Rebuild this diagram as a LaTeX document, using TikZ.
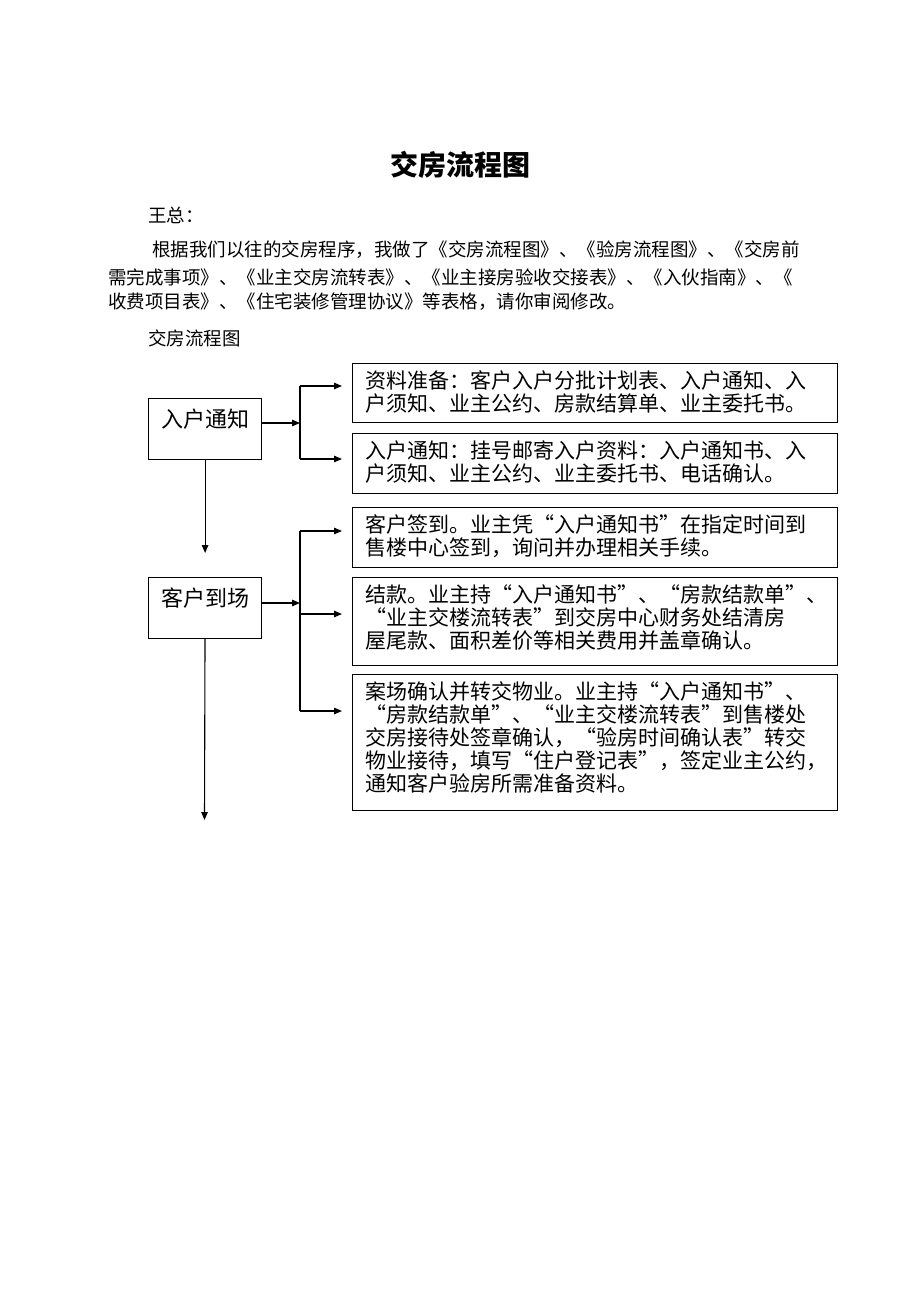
\documentclass[tikz,border=0pt]{standalone}
\usepackage{fontspec}
\setmainfont{Noto Sans CJK SC}
\usepackage{tikz}
\usetikzlibrary{arrows.meta}
\newcommand{\itemtext}[2]{\parbox[c][#1][t]{459pt}{#2}}
\tikzset{
  base/.style={draw=black, line width=1.1pt},
  arr/.style={base, -{Triangle[length=8pt,width=6.5pt]}},
  stage/.style={draw=black, line width=1.2pt, anchor=north west, minimum width=113pt, inner sep=4pt, text height=25pt, text depth=28pt, font=\fontsize{22}{24}\selectfont},
  item/.style={draw=black, line width=1.2pt, anchor=north west, inner xsep=13pt, inner ysep=7pt, font=\fontsize{21}{23}\selectfont},
  body/.style={anchor=west, inner sep=0pt, font=\fontsize{18.5}{20}\selectfont},
}
\begin{document}
\begin{tikzpicture}[x=1pt, y=-1pt]
  \fill[white] (0,0) rectangle (920,1302);
  \useasboundingbox (0,0) rectangle (920,1302);
  % heading and letter
  \node[inner sep=0pt, font=\fontsize{28}{30}\selectfont\bfseries] (title) at (460,165) {交房流程图};
  \node[body] (greet) at (148,215) {王总：};
  \node[body] (para1) at (152,250) {根据我们以往的交房程序，我做了《交房流程图》、《验房流程图》、《交房前};
  \node[body] (para2) at (108,277) {需完成事项》、《业主交房流转表》、《业主接房验收交接表》、《入伙指南》、《};
  \node[body] (para3) at (108,302) {收费项目表》、《住宅装修管理协议》等表格，请你审阅修改。};
  \node[body] (caption) at (148,338) {交房流程图};
  % stages
  \node[stage] (rhtz) at (148,398) {入户通知};
  \node[stage] (khdc) at (148,577) {客户到场};
  % detail boxes
  \node[item] (ziliao) at (352,363) {\itemtext{45pt}{资料准备：客户入户分批计划表、入户通知、入\\户须知、业主公约、房款结算单、业主委托书。}};
  \node[item] (tongzhi) at (352,433) {\itemtext{46pt}{入户通知：挂号邮寄入户资料：入户通知书、入\\户须知、业主公约、业主委托书、电话确认。}};
  \node[item] (qiandao) at (352,507) {\itemtext{46pt}{客户签到。业主凭“入户通知书”在指定时间到\\售楼中心签到，询问并办理相关手续。}};
  \node[item] (jiekuan) at (352,577) {\itemtext{74pt}{结款。业主持“入户通知书”、“房款结款单”、\\“业主交楼流转表”到交房中心财务处结清房\\屋尾款、面积差价等相关费用并盖章确认。}};
  \node[item] (anchang) at (352,674) {\itemtext{122pt}{案场确认并转交物业。业主持“入户通知书”、\\“房款结款单”、“业主交楼流转表”到售楼处\\交房接待处签章确认，“验房时间确认表”转交\\物业接待，填写“住户登记表”，签定业主公约，\\通知客户验房所需准备资料。}};
  % forks
  \coordinate (fork1) at (300,423);
  \coordinate (fork1a) at (300,386);
  \coordinate (fork1b) at (300,459);
  \coordinate (fork2) at (300,603);
  \coordinate (fork2a) at (300,531);
  \coordinate (fork2m) at (300,614);
  \coordinate (fork2b) at (300,711);
  \coordinate (flowend) at (204.5,820);
  \draw[arr] (rhtz.east |- fork1) -- (fork1);
  \draw[base] (fork1a) -- (fork1b);
  \draw[arr, shorten >=10pt] (fork1a) -- (ziliao.west |- fork1a);
  \draw[arr, shorten >=10pt] (fork1b) -- (tongzhi.west |- fork1b);
  \draw[arr, shorten >=24pt] (rhtz) -- (khdc);
  \draw[arr] (khdc.east |- fork2) -- (fork2);
  \draw[base] (fork2a) -- (fork2b);
  \draw[arr, shorten >=10pt] (fork2a) -- (qiandao.west |- fork2a);
  \draw[arr, shorten >=10pt] (fork2m) -- (jiekuan.west |- fork2m);
  \draw[arr, shorten >=10pt] (fork2b) -- (anchang.west |- fork2b);
  \draw[arr] (khdc) -- (flowend);
\end{tikzpicture}
\end{document}
